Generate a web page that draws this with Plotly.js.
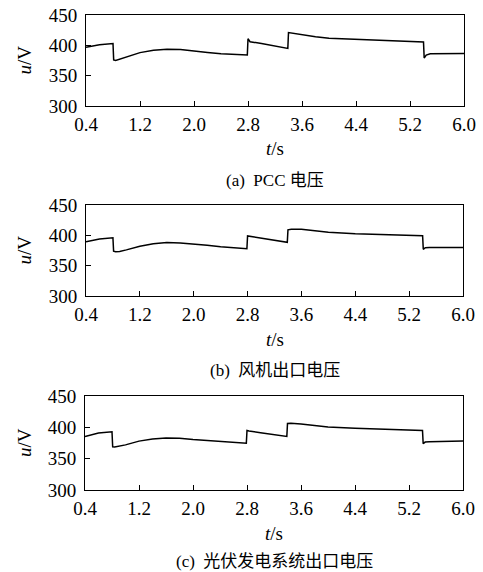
<!DOCTYPE html>
<html>
<head>
<meta charset="utf-8">
<script src="https://cdn.plot.ly/plotly-3.0.1.min.js"></script>
<style>html,body{margin:0;padding:0;background:#fff;}#chart{width:483px;height:572px;}</style>
</head>
<body>
<div id="chart"></div>
<script>
// time axis (s), shared by all three panels
const timeS = [0.40, 0.60, 0.80, 0.81, 0.84, 0.90, 1.00, 1.20, 1.40, 1.60, 1.80, 2.00, 2.20, 2.40, 2.60, 2.79, 2.80, 2.83, 3.00, 3.20, 3.39, 3.40, 3.45, 3.60, 3.80, 4.00, 4.40, 4.80, 5.20, 5.40, 5.41, 5.44, 5.50, 5.80, 6.00];
// (a) PCC voltage
const pccVoltage = [397, 401, 403, 376, 375, 377, 381, 388, 392, 393.5, 393, 390, 388, 386, 385, 384, 411, 406, 403, 399, 395, 421, 420, 418, 414, 411.5, 409.5, 408, 406.5, 405.5, 379, 384, 386, 386.5, 386.5];
// (b) wind turbine output voltage
const windVoltage = [389.5, 394, 396, 374, 373, 373.5, 376, 382, 386, 388, 387.5, 386, 383.5, 381, 379, 378, 399, 398.5, 396, 392, 388.5, 409, 410, 410, 407.5, 405, 402.5, 401, 400, 399.5, 377, 379.5, 380, 380, 380];
// (c) PV system output voltage
const pvVoltage = [385.5, 391, 393, 369, 368.7, 369.5, 372, 378, 381.5, 383, 382.5, 380.5, 379, 377, 375.5, 374.7, 395, 394, 391.5, 388.5, 385.5, 406, 406.4, 405.5, 403, 400.5, 398.5, 397, 395.6, 395, 374, 376.5, 377, 377.5, 378];

const xTickVals = [0.4, 1.2, 2.0, 2.8, 3.6, 4.4, 5.2, 6.0];
const xTickText = ['0.4', '1.2', '2.0', '2.8', '3.6', '4.4', '5.2', '6.0'];
const yTickVals = [300, 350, 400, 450];
const yTickText = ['300', '350', '400', '450'];
const captions = ['(a)&nbsp;&nbsp;PCC 电压', '(b)&nbsp;&nbsp;风机出口电压', '(c)&nbsp;&nbsp;光伏发电系统出口电压'];
const xTitle = '<i>t</i>/s';
const yTitle = '<i>u</i>/V';

const W = 483, H = 572;
const serif = 'Liberation Serif';
const cjk = 'Liberation Serif, Noto Sans CJK SC';
// pixel boxes [left, right, top, bottom]
const boxes = [[86, 464, 15, 106], [86, 463, 205, 296], [85, 463, 396, 490]];
const capOffset = [74, 74, 71];

const series = [pccVoltage, windVoltage, pvVoltage];
const traces = series.map((v, i) => ({
  x: timeS, y: v, type: 'scatter', mode: 'lines',
  xaxis: i === 0 ? 'x' : 'x' + (i + 1), yaxis: i === 0 ? 'y' : 'y' + (i + 1),
  line: {color: '#000', width: 1.5}, showlegend: false, hoverinfo: 'skip'
}));

const layout = {
  width: W, height: H, margin: {l: 0, r: 0, t: 0, b: 0},
  paper_bgcolor: '#fff', plot_bgcolor: '#fff', showlegend: false,
  font: {family: serif, color: '#000', size: 19},
  annotations: []
};
boxes.forEach((b, i) => {
  const xa = i === 0 ? 'xaxis' : 'xaxis' + (i + 1);
  const ya = i === 0 ? 'yaxis' : 'yaxis' + (i + 1);
  layout[xa] = {
    domain: [b[0] / W, b[1] / W], range: [0.4, 6.0], anchor: i === 0 ? 'y' : 'y' + (i + 1),
    tickvals: xTickVals, ticktext: xTickText, ticks: 'inside', ticklen: 5, tickwidth: 1, tickcolor: '#000',
    showline: true, linecolor: '#000', linewidth: 1, mirror: true, showgrid: false, zeroline: false,
    tickfont: {family: serif, size: 19, color: '#000'}, ticklabelstandoff: 1
  };
  layout[ya] = {
    domain: [1 - b[3] / H, 1 - b[2] / H], range: [300, 450], anchor: i === 0 ? 'x' : 'x' + (i + 1),
    tickvals: yTickVals, ticktext: yTickText, ticks: 'inside', ticklen: 5, tickwidth: 1, tickcolor: '#000',
    showline: true, linecolor: '#000', linewidth: 1, mirror: true, showgrid: false, zeroline: false,
    tickfont: {family: serif, size: 19, color: '#000'}, ticklabelstandoff: 4
  };
  const cx = (b[0] + b[1]) / 2 / W;
  layout.annotations.push({
    text: yTitle, xref: 'paper', yref: 'paper', x: 24 / W, y: 1 - (b[2] + b[3]) / 2 / H,
    textangle: -90, showarrow: false, xanchor: 'center', yanchor: 'middle',
    font: {family: serif, size: 19, color: '#000'}
  });
  layout.annotations.push({
    text: xTitle, xref: 'paper', yref: 'paper', x: cx, y: 1 - (b[3] + 43) / H,
    showarrow: false, xanchor: 'center', yanchor: 'middle',
    font: {family: serif, size: 19, color: '#000'}
  });
  layout.annotations.push({
    text: captions[i], xref: 'paper', yref: 'paper', x: cx, y: 1 - (b[3] + capOffset[i]) / H,
    showarrow: false, xanchor: 'center', yanchor: 'middle',
    font: {family: cjk, size: 17, color: '#000'}
  });
});

Plotly.newPlot('chart', traces, layout, {staticPlot: true, displayModeBar: false});
</script>
</body>
</html>
